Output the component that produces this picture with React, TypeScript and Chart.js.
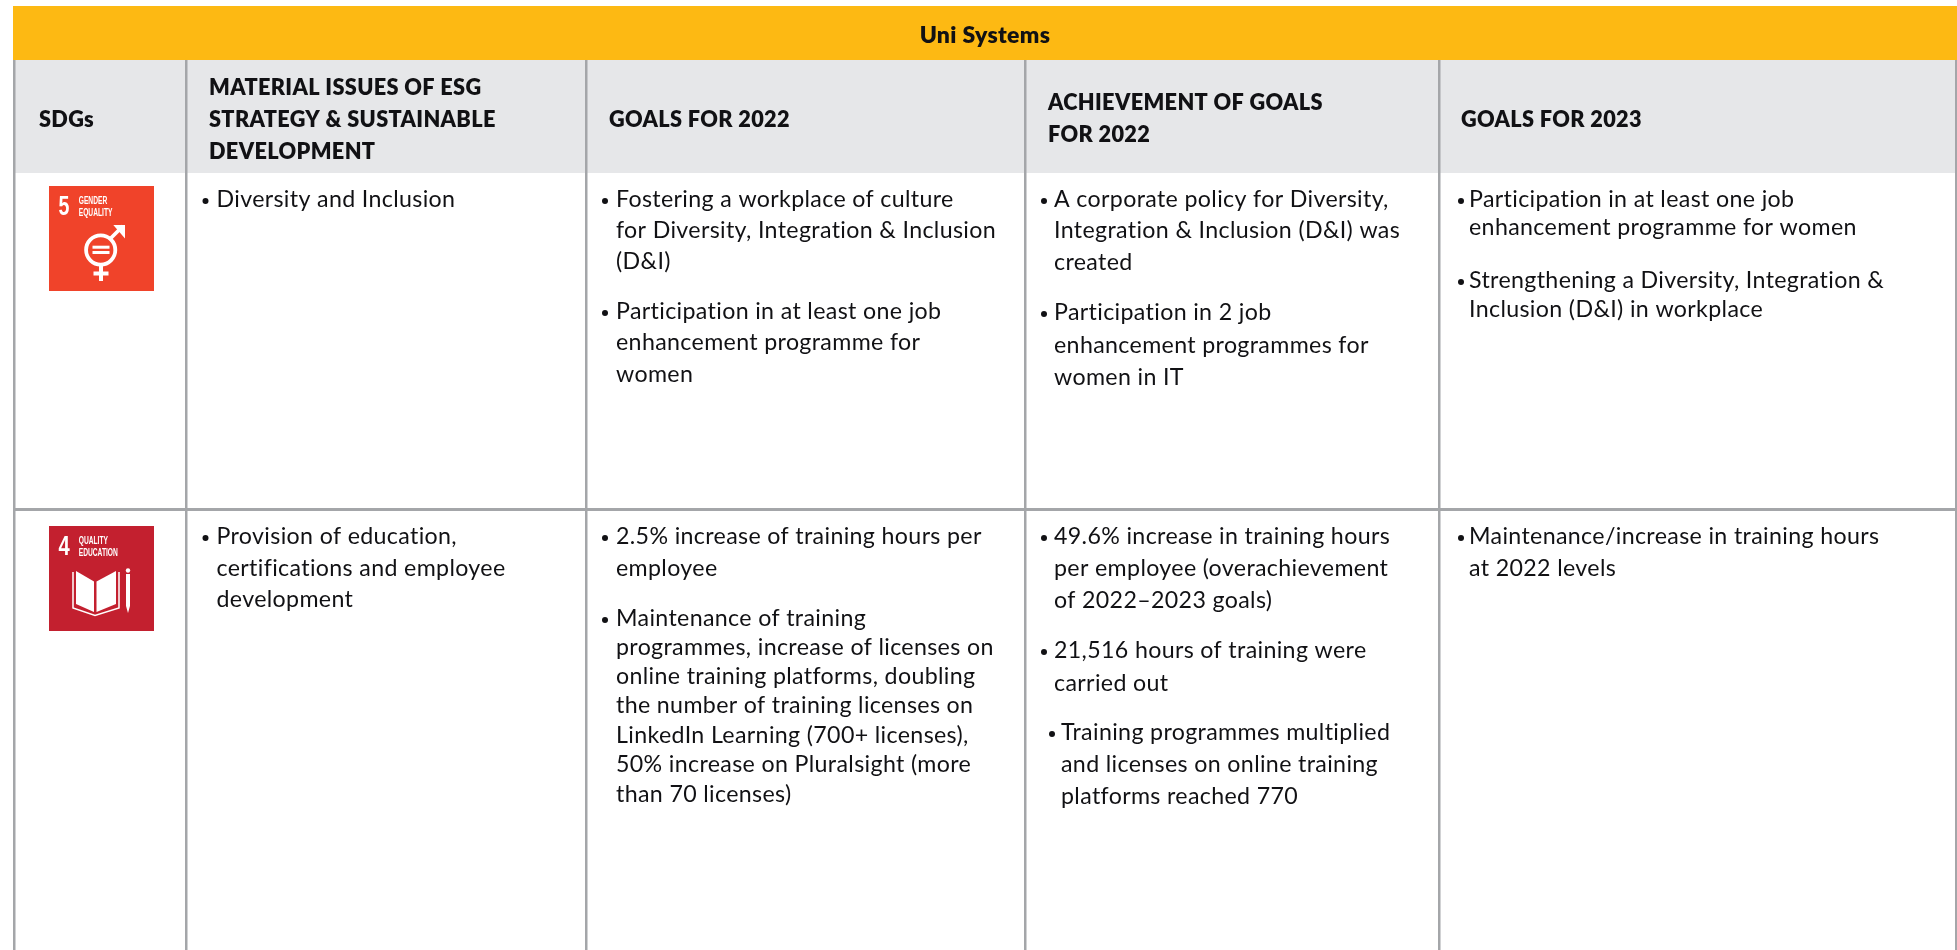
import React, { useEffect, useRef } from "react";
import { Chart, registerables } from "chart.js";

Chart.register(...registerables);

// ---- content ----
const tableTitle = "Uni Systems";
const sdgHeader = ["SDGs"];
const issuesHeader = ["MATERIAL ISSUES OF ESG", "STRATEGY & SUSTAINABLE", "DEVELOPMENT"];
const goals22Header = ["GOALS FOR 2022"];
const achievedHeader = ["ACHIEVEMENT OF GOALS", "FOR 2022"];
const goals23Header = ["GOALS FOR 2023"];

const genderIssues = [["Diversity and Inclusion"]];
const genderGoals22 = [
  ["Fostering a workplace of culture", "for Diversity, Integration & Inclusion", "(D&I)"],
  ["Participation in at least one job", "enhancement programme for", "women"],
];
const genderAchieved = [
  ["A corporate policy for Diversity,", "Integration & Inclusion (D&I) was", "created"],
  ["Participation in 2 job", "enhancement programmes for", "women in IT"],
];
const genderGoals23 = [
  ["Participation in at least one job", "enhancement programme for women"],
  ["Strengthening a Diversity, Integration &", "Inclusion (D&I) in workplace"],
];
const eduIssues = [["Provision of education,", "certifications and employee", "development"]];
const eduGoals22 = [
  ["2.5% increase of training hours per", "employee"],
  [
    "Maintenance of training",
    "programmes, increase of licenses on",
    "online training platforms, doubling",
    "the number of training licenses on",
    "LinkedIn Learning (700+ licenses),",
    "50% increase on Pluralsight (more",
    "than 70 licenses)",
  ],
];
const eduAchieved = [
  ["49.6% increase in training hours", "per employee (overachievement", "of 2022–2023 goals)"],
  ["21,516 hours of training were", "carried out"],
  ["Training programmes multiplied", "and licenses on online training", "platforms reached 770"],
];
const eduGoals23 = [["Maintenance/increase in training hours", "at 2022 levels"]];

// ---- table geometry, in the units of the two scales ----
const columnEdges = [14.5, 186, 586, 1025, 1439, 1956];
const rowEdges = [509.5];
const TITLE_BAND = [6, 60];
const HEADER_BAND = [60, 173];
const BODY_FONT = "Lato";
const BODY_SIZE = 23.2;
const BODY_SPACING = "0.35px";
const HEAD_SIZE = 21.7;
const TITLE_SIZE = 23;
const HEAD_SPACING = "0.35px";
const INK = "#111114";

const headerLayout = [
  { lines: sdgHeader, x: 39, y: [120] },
  { lines: issuesHeader, x: 209, y: [88.5, 120, 152] },
  { lines: goals22Header, x: 609, y: [120] },
  { lines: achievedHeader, x: 1048, y: [103.5, 135.5] },
  { lines: goals23Header, x: 1461, y: [120] },
];

const bodyLayout = [
  { groups: genderIssues, bx: 205.5, x: 216.5, y: [[200]] },
  { groups: genderGoals22, bx: 605, x: 616, y: [[200, 231, 262], [312, 343, 375]] },
  { groups: genderAchieved, bx: 1044, x: 1054, y: [[200, 231, 263], [313, 346, 378]] },
  { groups: genderGoals23, bx: 1461, x: 1469, y: [[200, 228], [281, 310]] },
  { groups: eduIssues, bx: 205.5, x: 216.5, y: [[537, 569, 600]] },
  { groups: eduGoals22, bx: 605, x: 616, y: [[537, 569], [619, 648, 677, 706, 736, 765, 795]] },
  { groups: eduAchieved, bx: 1044, x: 1054, xs: [1054, 1054, 1061], y: [[537, 569, 601], [651, 684], [733, 765, 797]] },
  { groups: eduGoals23, bx: 1461, x: 1469, y: [[537, 569]] },
];

const bulletPoints = bodyLayout.flatMap((c: any) =>
  c.y.map((ys: number[], i: number) => ({ x: c.xs && c.xs[i] !== c.x ? c.xs[i] - 9 : c.bx, y: ys[0] + 1 }))
);

const tablePlugin = {
  id: "tablePlugin",
  beforeDraw(chart: any) {
    const { ctx, scales } = chart;
    const X = (v: number) => scales.x.getPixelForValue(v);
    const Y = (v: number) => scales.y.getPixelForValue(v);
    ctx.save();
    ctx.fillStyle = "#ffffff";
    ctx.fillRect(0, 0, chart.width, chart.height);
    ctx.fillStyle = "#e6e7e9";
    ctx.fillRect(X(13), Y(HEADER_BAND[0]), X(1957) - X(13), Y(HEADER_BAND[1]) - Y(HEADER_BAND[0]));
    ctx.restore();
  },
  beforeDatasetsDraw(chart: any) {
    const { ctx, scales } = chart;
    const X = (v: number) => scales.x.getPixelForValue(v);
    const Y = (v: number) => scales.y.getPixelForValue(v);
    ctx.save();
    ctx.fillStyle = "#fdb913";
    ctx.fillRect(X(13), Y(TITLE_BAND[0]), X(1957) - X(13), Y(TITLE_BAND[1]) - Y(TITLE_BAND[0]));
    drawGenderIcon(ctx, X, Y);
    drawEducationIcon(ctx, X, Y);
    ctx.restore();
  },
  afterDraw(chart: any) {
    const { ctx, scales } = chart;
    const X = (v: number) => scales.x.getPixelForValue(v);
    const Y = (v: number) => scales.y.getPixelForValue(v);
    ctx.save();
    ctx.textBaseline = "middle";
    ctx.fillStyle = INK;
    (ctx as any).letterSpacing = HEAD_SPACING;
    ctx.font = `800 ${TITLE_SIZE}px ${BODY_FONT}`;
    ctx.textAlign = "center";
    ctx.fillText(tableTitle, X(985), Y(36));
    ctx.font = `800 ${HEAD_SIZE}px ${BODY_FONT}`;
    ctx.textAlign = "left";
    headerLayout.forEach((h) => h.lines.forEach((t, i) => ctx.fillText(t, X(h.x), Y(h.y[i]))));
    ctx.font = `400 ${BODY_SIZE}px ${BODY_FONT}`;
    (ctx as any).letterSpacing = BODY_SPACING;
    bodyLayout.forEach((c: any) =>
      c.groups.forEach((g: string[], gi: number) =>
        g.forEach((t, li) => ctx.fillText(t, X(c.xs ? c.xs[gi] : c.x), Y(c.y[gi][li])))
      )
    );
    ctx.restore();
  },
};

function condensedText(ctx: any, X: any, Y: any, text: string, x: number, y: number, size: number, sx: number) {
  ctx.save();
  ctx.translate(X(x), Y(y));
  ctx.scale(sx, 1);
  ctx.font = `700 ${size}px "Liberation Sans"`;
  ctx.textBaseline = "alphabetic";
  ctx.textAlign = "left";
  ctx.fillStyle = "#ffffff";
  ctx.fillText(text, 0, 0);
  ctx.restore();
}

function drawGenderIcon(ctx: any, X: any, Y: any) {
  ctx.fillStyle = "#f0432a";
  ctx.fillRect(X(49), Y(186), 105, 105);
  condensedText(ctx, X, Y, "5", 58.5, 215, 28, 0.7);
  condensedText(ctx, X, Y, "GENDER", 78.7, 203.5, 11.5, 0.58);
  condensedText(ctx, X, Y, "EQUALITY", 78.7, 215.5, 11.5, 0.58);
  ctx.strokeStyle = "#ffffff";
  ctx.fillStyle = "#ffffff";
  ctx.lineWidth = 3.8;
  ctx.beginPath();
  ctx.arc(X(100.7), Y(250), 14.6, 0, Math.PI * 2);
  ctx.stroke();
  ctx.beginPath();
  ctx.moveTo(X(110), Y(239));
  ctx.lineTo(X(123), Y(226));
  ctx.stroke();
  ctx.beginPath();
  ctx.moveTo(X(113.3), Y(225));
  ctx.lineTo(X(125), Y(225));
  ctx.lineTo(X(125), Y(238.5));
  ctx.closePath();
  ctx.fill();
  ctx.fillRect(X(92.5), Y(245.7), 17, 3);
  ctx.fillRect(X(92.5), Y(251), 17, 3);
  ctx.fillRect(X(99), Y(265), 4, 16);
  ctx.fillRect(X(93.5), Y(271.5), 15, 4);
}

function drawEducationIcon(ctx: any, X: any, Y: any) {
  ctx.fillStyle = "#c3202f";
  ctx.fillRect(X(49), Y(526), 105, 105);
  condensedText(ctx, X, Y, "4", 58.5, 555, 28, 0.72);
  condensedText(ctx, X, Y, "QUALITY", 78.7, 543.5, 11.5, 0.58);
  condensedText(ctx, X, Y, "EDUCATION", 78.7, 555.5, 11.5, 0.58);
  ctx.fillStyle = "#ffffff";
  const poly = (pts: number[][]) => {
    ctx.beginPath();
    pts.forEach((p, i) => (i ? ctx.lineTo(X(p[0]), Y(p[1])) : ctx.moveTo(X(p[0]), Y(p[1]))));
    ctx.closePath();
    ctx.fill();
  };
  poly([[76, 571], [94, 581.5], [94, 612], [76, 604]]);
  poly([[96.5, 581.5], [116, 571], [116, 604], [96.5, 612]]);
  ctx.strokeStyle = "#ffffff";
  ctx.lineWidth = 1.5;
  ctx.beginPath();
  ctx.moveTo(X(73), Y(572));
  ctx.lineTo(X(73), Y(608));
  ctx.lineTo(X(95), Y(615.5));
  ctx.lineTo(X(119), Y(608));
  ctx.lineTo(X(119), Y(572));
  ctx.stroke();
  ctx.beginPath();
  ctx.arc(X(128), Y(570.5), 2.2, 0, Math.PI * 2);
  ctx.fill();
  poly([[126, 574], [130, 574], [130, 606], [128, 613], [126, 606]]);
}

export default function App() {
  const ref = useRef<HTMLCanvasElement | null>(null);
  useEffect(() => {
    if (!ref.current) return;
    const chart = new Chart(ref.current, {
      type: "scatter",
      data: {
        datasets: [
          {
            label: "bullets",
            data: bulletPoints,
            pointRadius: 3,
            pointBorderWidth: 0,
            pointBackgroundColor: INK,
            showLine: false,
          },
        ],
      },
      plugins: [tablePlugin],
      options: {
        animation: false,
        responsive: false,
        devicePixelRatio: 1,
        layout: { autoPadding: false, padding: { left: 13, top: 6, right: 0, bottom: 0 } },
        plugins: { legend: { display: false }, title: { display: false }, tooltip: { enabled: false } },
        scales: {
          x: {
            type: "linear",
            min: 13,
            max: 1957,
            afterBuildTicks: (s: any) => {
              s.ticks = columnEdges.map((value) => ({ value }));
            },
            ticks: { display: false },
            border: { display: false },
            grid: { color: "#a4a6a9", lineWidth: 2.5, drawTicks: false },
          },
          y: {
            type: "linear",
            reverse: true,
            min: 6,
            max: 950,
            afterBuildTicks: (s: any) => {
              s.ticks = rowEdges.map((value) => ({ value }));
            },
            ticks: { display: false },
            border: { display: false },
            grid: { color: "#a4a6a9", lineWidth: 3, drawTicks: false },
          },
        },
      },
    } as any);
    return () => chart.destroy();
  }, []);
  return (
    <div style={{ position: "fixed", left: 0, top: 0, width: 1957, height: 950, background: "#fff" }}>
      <canvas ref={ref} width={1957} height={950} style={{ display: "block", width: 1957, height: 950 }} />
    </div>
  );
}
